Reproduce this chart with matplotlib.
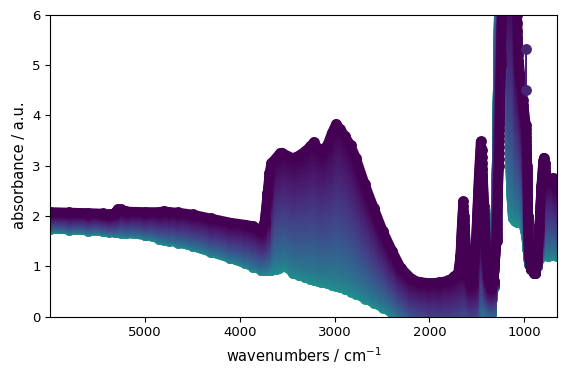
import matplotlib
matplotlib.use("Agg")
import matplotlib.pyplot as plt
import numpy as np

# wavenumber grid (cm-1) at which the envelope spectra were read
wavenumbers = [6000, 5800, 5600, 5450, 5380, 5320, 5290, 5250, 5200, 5000, 4850, 4800, 4750,
               4650, 4500, 4300, 4100, 3950, 3860, 3780, 3740, 3710, 3690, 3670, 3620, 3590,
               3575, 3560, 3500, 3440, 3380, 3310, 3260, 3220, 3180, 3140, 3080, 3030, 2985,
               2940, 2890, 2830, 2775, 2680, 2585, 2490, 2390, 2300, 2180, 2100, 2000, 1900,
               1800, 1760, 1740, 1700, 1675, 1660, 1645, 1630, 1610, 1590, 1565, 1540, 1510,
               1480, 1460, 1445, 1420, 1400, 1380, 1350, 1320, 1290, 1265, 1245, 1230, 1200,
               1180, 1160, 1140, 1120, 1100, 1077, 1060, 1040, 1010, 980, 965, 958, 950, 930,
               900, 880, 860, 840, 820, 800, 792, 780, 765, 745, 720, 690, 665, 650]

# first spectrum (top, dark purple)
first_spectrum = [2.08, 2.07, 2.06, 2.05, 2.03, 2.06, 2.14, 2.13, 2.09, 2.08, 2.08, 2.10, 2.08,
                  2.07, 2.03, 1.95, 1.87, 1.83, 1.80, 1.70, 1.90, 2.45, 2.85, 3.05, 3.15, 3.22,
                  3.25, 3.26, 3.20, 3.15, 3.20, 3.29, 3.38, 3.47, 3.35, 3.26, 3.40, 3.65, 3.83,
                  3.72, 3.59, 3.40, 3.16, 2.63, 2.16, 1.70, 1.30, 0.97, 0.74, 0.69, 0.67, 0.68,
                  0.72, 0.76, 0.80, 0.85, 1.20, 1.80, 2.29, 2.00, 1.30, 0.80, 0.62, 0.70, 1.50,
                  2.80, 3.48, 3.30, 2.20, 1.30, 0.80, 0.57, 0.70, 1.50, 3.00, 5.00, 6.40, 6.40,
                  6.40, 6.40, 6.40, 6.40, 6.40, 6.30, 5.20, 4.80, 4.30, 3.80, 3.00, 2.00, 1.30, 0.95,
                  0.87, 0.86, 1.10, 1.80, 2.60, 3.10, 3.16, 3.05, 2.80, 2.68, 2.70, 2.76, 2.70, 2.55]

# last spectrum (bottom, teal)
last_spectrum = [1.75, 1.73, 1.71, 1.70, 1.69, 1.68, 1.68, 1.67, 1.66, 1.62, 1.55, 1.53, 1.51,
                 1.47, 1.40, 1.28, 1.16, 1.06, 0.99, 0.93, 0.92, 0.92, 0.93, 0.93, 0.94, 0.97,
                 1.20, 1.07, 0.98, 0.86, 0.82, 0.78, 0.75, 0.73, 0.71, 0.69, 0.66, 0.63, 0.61,
                 0.58, 0.55, 0.50, 0.45, 0.36, 0.27, 0.18, 0.07, -0.05, -0.25, -0.35, -0.45, -0.50,
                 -0.50, -0.50, -0.50, -0.48, -0.47, -0.46, -0.45, -0.44, -0.42, -0.40, -0.37, -0.34, -0.28,
                 -0.22, -0.18, -0.15, -0.10, -0.05, -0.02, 0.00, 0.60, 3.00, 6.40, 6.40, 6.40, 6.40,
                 6.40, 4.50, 2.50, 1.95, 1.90, 1.88, 1.88, 1.88, 1.85, 1.60, 1.35, 1.20, 1.05, 0.98,
                 0.95, 0.95, 1.00, 1.15, 1.35, 1.50, 1.50, 1.40, 1.25, 1.20, 1.22, 1.25, 1.22, 1.20]

# relative level of each of the recorded spectra between last (0) and first (1)
levels = [1.0, 0.9639, 0.9283, 0.8932, 0.8586, 0.8245, 0.7909, 0.7579, 0.7254, 0.6934,
          0.6620, 0.6311, 0.6008, 0.5711, 0.5419, 0.5132, 0.4852, 0.4578, 0.4310, 0.4047,
          0.3791, 0.3542, 0.3299, 0.3062, 0.2832, 0.2609, 0.2393, 0.2184, 0.1982, 0.1788,
          0.1601, 0.1422, 0.1251, 0.1088, 0.0934, 0.0789, 0.0654, 0.0528, 0.0413, 0.0308,
          0.0216, 0.0136, 0.0071, 0.0023, 0.0]

# isolated spike seen in one spectrum
spike_wn = [975, 975]
spike_abs = [5.31, 4.50]

fig = plt.figure(figsize=(5.66, 3.74), dpi=100)
ax = fig.add_axes([0.0892, 0.1532, 0.8954, 0.808])

wn = np.array(wavenumbers, dtype=float)
top = np.array(first_spectrum)
bot = np.array(last_spectrum)
n = len(levels)
cmap = plt.get_cmap("viridis")
lw = 6.8
for i in range(n - 1, -1, -1):
    spec = bot + levels[i] * (top - bot)
    col = cmap(0.52 * i / (n - 1))
    ax.plot(wn, spec, '-', color=col, lw=lw, solid_capstyle='round',
            solid_joinstyle='round', marker='o', ms=lw, mec=col, mfc=col)

ax.plot(spike_wn, spike_abs, '-o', color=cmap(0.1), lw=1.5, ms=lw)

ax.set_xlim(5999.5, 649.9)
ax.set_ylim(0, 6)
ax.set_xticks([5000, 4000, 3000, 2000, 1000])
ax.set_yticks([0, 1, 2, 3, 4, 5, 6])
ax.tick_params(labelsize=9.5)
ax.set_xlabel("wavenumbers / cm$^{-1}$", fontsize=10.5)
ax.set_ylabel("absorbance / a.u.", fontsize=10.5)

fig.savefig("out.png", dpi=100)
